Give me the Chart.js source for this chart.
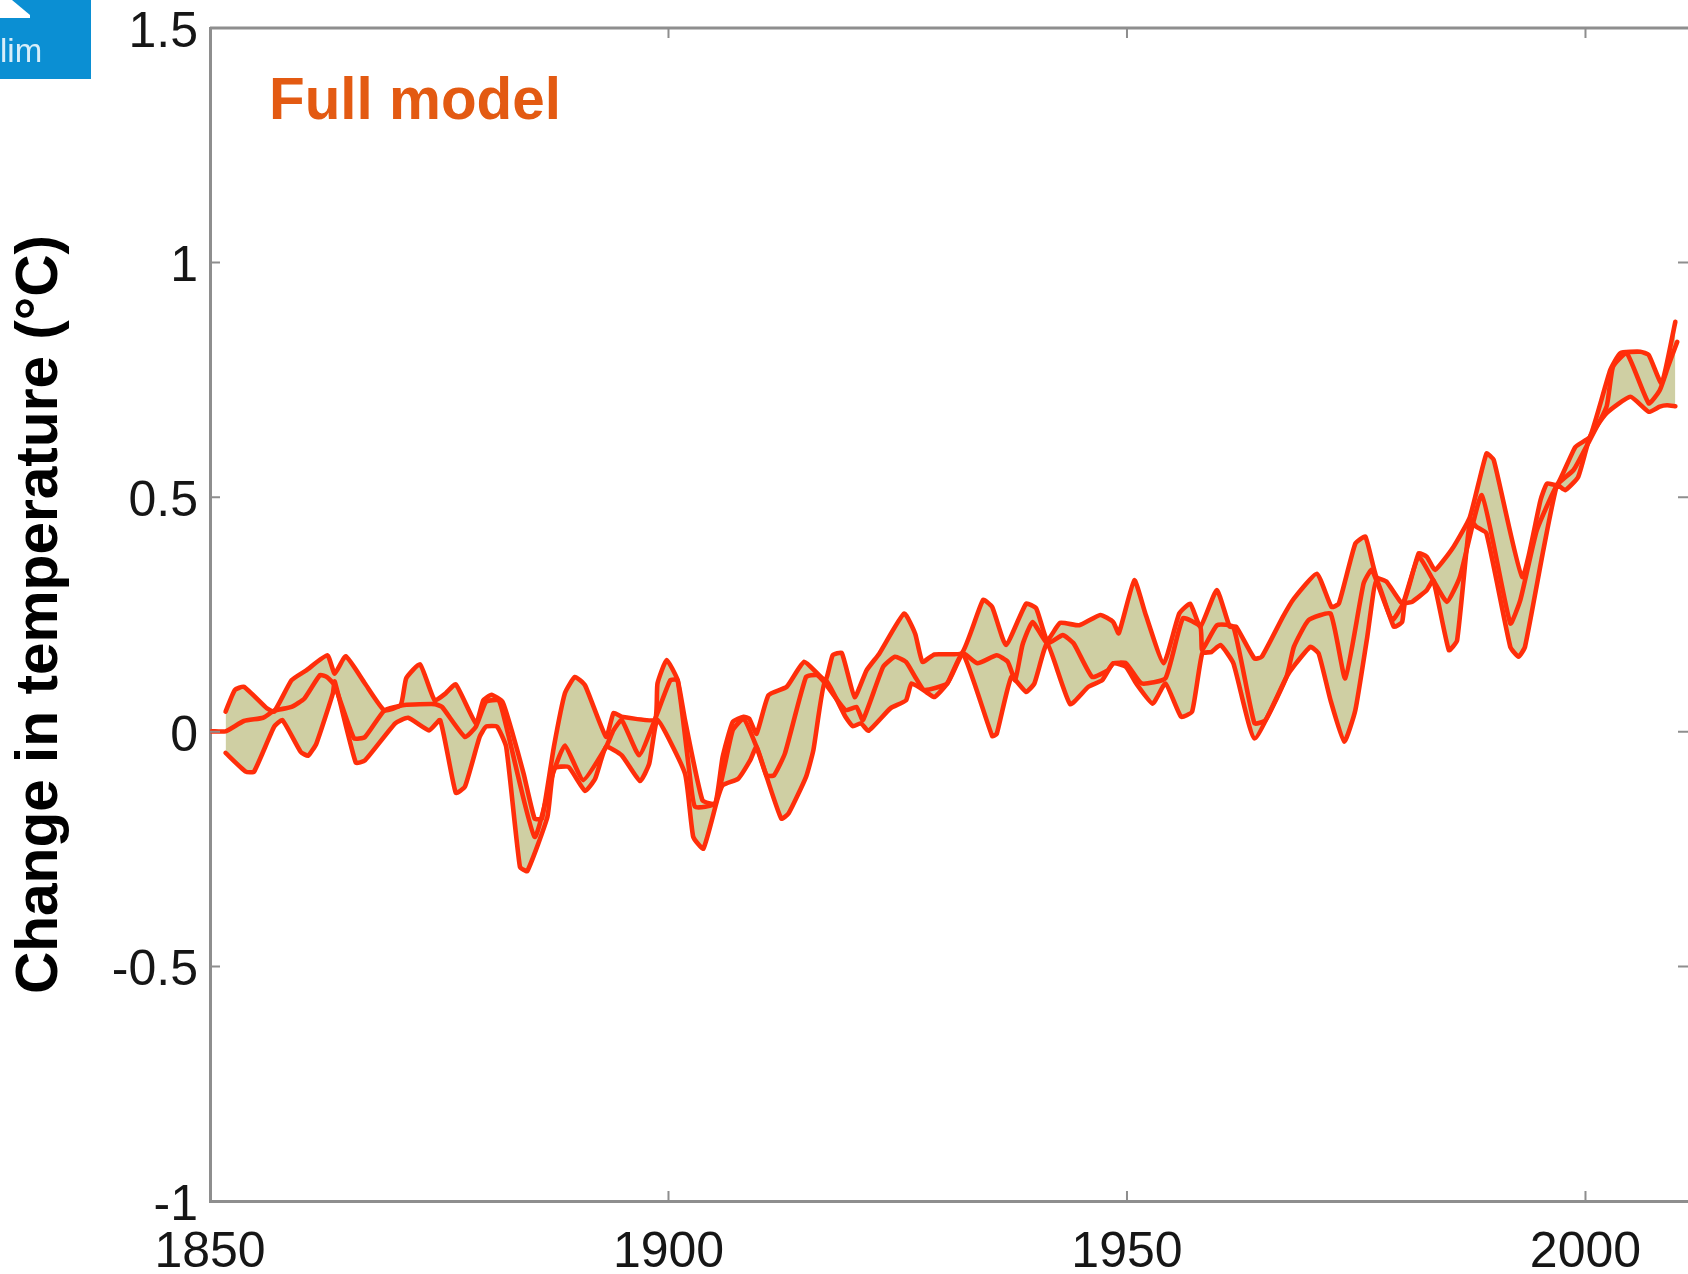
<!DOCTYPE html>
<html><head><meta charset="utf-8">
<style>html,body{margin:0;padding:0;background:#fff;overflow:hidden}canvas{display:block}</style>
<script src="https://cdn.jsdelivr.net/npm/chart.js@4"></script>
</head><body><div style="width:1688px;height:1274px"><canvas id="c" width="1688" height="1274"></canvas></div>
<script>
const xTicks=[1850,1900,1950,2000];
const yTicks=[-1,-0.5,0,0.5,1,1.5];
const yAxisTitle="Change in temperature (°C)";
const panelLabel="Full model";
const logoText="lim";
const upperYears=[1851.7,1852.7,1853.7,1856.2,1857.0,1858.9,1860.5,1862.8,1863.6,1864.8,1866.9,1869.0,1870.8,1871.4,1872.9,1874.5,1875.7,1876.8,1879.0,1879.8,1880.7,1881.9,1882.9,1884.2,1885.4,1886.2,1887.5,1888.7,1889.8,1890.9,1893.2,1894.0,1894.9,1898.5,1898.8,1899.8,1901.0,1901.8,1903.7,1905.1,1905.9,1907.0,1908.2,1908.8,1909.6,1910.9,1912.9,1914.8,1917.1,1917.9,1918.9,1920.3,1921.6,1923.0,1925.7,1926.9,1927.7,1929.0,1932.0,1934.3,1935.3,1936.8,1939.0,1940.1,1941.3,1942.7,1944.8,1947.1,1948.5,1949.1,1950.8,1952.0,1954.0,1955.7,1956.9,1958.0,1959.8,1961.2,1961.9,1963.9,1964.7,1967.0,1968.2,1970.7,1972.3,1973.1,1974.9,1976.0,1977.2,1978.3,1980.1,1981.8,1982.7,1983.6,1985.6,1987.4,1989.2,1990.0,1993.1,1995.1,1995.8,1996.9,1998.9,2000.5,2002.7,2003.8,2006.0,2006.9,2008.3,2009.8];
const upperValues=[.043,.089,.096,.050,.043,.110,.131,.163,.124,.161,.103,.046,.057,.114,.144,.067,.082,.101,.018,.067,.079,.064,.003,-.089,-.185,-.185,-.032,.082,.117,.099,-.011,.040,.032,.026,.103,.153,.110,.025,-.146,-.153,-.054,.021,.032,.028,-.004,.078,.096,.149,.110,.163,.168,.074,.131,.167,.252,.209,.149,.165,.168,.281,.266,.185,.273,.263,.195,.232,.227,.249,.234,.210,.323,.252,.146,.252,.273,.224,.302,.224,.224,.156,.160,.245,.284,.337,.266,.273,.401,.416,.330,.320,.273,.380,.373,.345,.394,.458,.593,.579,.330,.494,.529,.526,.607,.629,.771,.807,.810,.803,.743,.874];
const lowerYears=[1851.7,1853.9,1854.8,1857.0,1857.9,1859.9,1860.7,1861.6,1863.4,1863.6,1865.9,1866.9,1870.2,1871.6,1873.9,1875.1,1876.8,1877.8,1879.4,1880.1,1881.3,1882.3,1883.8,1884.6,1886.8,1887.5,1889.1,1890.9,1892.0,1893.2,1894.9,1896.9,1897.9,1898.8,1901.8,1902.7,1903.8,1905.3,1905.9,1907.6,1908.9,1909.6,1910.7,1912.3,1913.1,1915.0,1915.8,1917.1,1919.3,1920.1,1921.0,1921.8,1924.2,1925.9,1926.5,1928.1,1929.0,1930.4,1932.1,1935.3,1935.8,1937.4,1939.0,1939.9,1941.3,1943.8,1945.8,1947.3,1948.5,1949.9,1951.0,1952.8,1954.2,1955.9,1957.1,1958.2,1959.2,1960.2,1961.6,1963.9,1967.4,1968.2,1970.0,1970.9,1972.2,1973.7,1974.9,1976.2,1977.2,1979.1,1980.0,1980.3,1981.1,1982.7,1983.4,1985.1,1986.0,1987.4,1988.1,1989.2,1991.8,1992.7,1993.4,1995.4,1996.9,1997.8,1999.2,2000.5,2002.3,2004.9,2006.9,2008.1,2008.9,2009.8];
const lowerValues=[-.045,-.085,-.085,.011,.025,-.043,-.051,-.025,.082,.107,-.066,-.061,.018,.030,.003,.025,-.130,-.117,-.011,.011,.011,-.032,-.288,-.297,-.181,-.078,-.075,-.126,-.100,-.032,-.050,-.105,-.068,.025,-.089,-.224,-.249,-.146,-.114,-.100,-.061,-.032,-.096,-.185,-.174,-.096,-.039,.110,.032,.012,.018,.002,.050,.067,.103,.085,.074,.103,.167,-.009,-.004,.117,.085,.103,.188,.059,.096,.110,.146,.138,.103,.060,.103,.032,.043,.167,.170,.185,.146,-.014,.117,.140,.181,.167,.067,-.021,.046,.202,.323,.224,.234,.273,.277,.302,.323,.174,.195,.451,.437,.423,.181,.160,.181,.387,.526,.515,.543,.629,.679,.714,.682,.693,.696,.694];
const midYears=[1850.2,1851.7,1853.7,1855.8,1857.0,1858.9,1860.3,1862.0,1862.8,1863.6,1865.7,1866.9,1869.0,1871.2,1874.5,1875.3,1877.8,1879.0,1880.1,1881.5,1882.5,1885.4,1887.4,1888.7,1890.7,1893.2,1894.0,1894.9,1896.8,1898.5,1900.2,1901.0,1902.3,1902.9,1905.1,1907.0,1908.2,1909.6,1910.7,1911.5,1912.7,1915.0,1916.2,1917.1,1919.3,1920.5,1921.2,1923.4,1924.7,1925.9,1926.9,1927.9,1930.4,1932.1,1933.7,1935.8,1937.0,1937.8,1938.6,1939.7,1941.3,1943.0,1944.2,1946.2,1947.9,1948.5,1949.9,1951.6,1954.2,1956.1,1958.0,1958.2,1959.8,1961.6,1963.9,1965.1,1967.4,1968.2,1969.8,1972.2,1973.8,1975.8,1976.7,1978.9,1980.1,1981.8,1983.4,1984.9,1986.3,1988.7,1991.8,1992.9,1994.7,1996.9,1998.7,2000.1,2002.3,2003.0,2004.5,2006.9,2008.1,2009.0,2010.0];
const midValues=[.001,.001,.023,.030,.045,.053,.071,.121,.116,.099,-.014,-.011,.045,.057,.059,.053,-.011,.011,.064,.067,-.004,-.224,-.089,-.029,-.103,-.032,.003,.025,-.050,.025,.110,.110,-.089,-.160,-.153,.003,.028,-.032,-.093,-.093,-.046,.117,.121,.103,.046,.053,.025,.138,.160,.149,.117,.089,.103,.167,.146,.163,.149,.110,.185,.234,.188,.206,.188,.117,.131,.146,.146,.103,.114,.242,.224,.174,.227,.224,.018,.025,.117,.181,.238,.252,.114,.316,.345,.238,.273,.373,.323,.277,.330,.504,.231,.281,.430,.526,.558,.608,.693,.778,.807,.700,.728,.778,.831];

const pair=(xs,ys)=>xs.map((x,i)=>({x,y:ys[i]}));
const RED='#ff2e0a', FILL='#cfcfa3', AXIS='#8e8e8e', INK='#161616';
const lineStyle={borderColor:RED,borderWidth:4.6,pointRadius:0,tension:0.15,borderJoinStyle:'round',borderCapStyle:'round'};
const decor={id:'decor',
 afterDatasetsDraw(ch){
  const c=ch.ctx,a=ch.chartArea,sx=ch.scales.x,sy=ch.scales.y,T=10;
  c.save();
  c.strokeStyle=AXIS;c.lineWidth=3;
  c.beginPath();c.moveTo(a.left,a.top);c.lineTo(a.right,a.top);c.stroke();
  c.lineWidth=2;
  c.beginPath();
  for(const t of xTicks){const p=sx.getPixelForValue(t);
   if(t!==xTicks[0]){c.moveTo(p,a.top);c.lineTo(p,a.top+T);c.moveTo(p,a.bottom);c.lineTo(p,a.bottom-T);}}
  for(const t of yTicks){const p=sy.getPixelForValue(t);
   if(t!==yTicks[0]&&t!==yTicks[yTicks.length-1]){c.moveTo(a.left,p);c.lineTo(a.left+T,p);c.moveTo(a.right,p);c.lineTo(a.right-T,p);}}
  c.stroke();
  c.fillStyle='#e35a12';c.font='bold 58.4px "Liberation Sans"';c.textAlign='left';c.textBaseline='alphabetic';
  c.fillText(panelLabel,269,119);
  c.fillStyle='#0b8fd3';c.fillRect(0,0,91,79);
  c.fillStyle='#ffffff';c.beginPath();c.moveTo(0,0);c.lineTo(12,0);c.lineTo(30,15);c.lineTo(30,18);c.lineTo(0,18);c.closePath();c.fill();
  c.fillStyle='#d8eef9';c.font='33px "Liberation Sans"';c.fillText(logoText,0,62);
  c.restore();
 }};
new Chart(document.getElementById('c'),{
 type:'line',
 data:{datasets:[
  {label:'Upper',data:pair(upperYears,upperValues),...lineStyle,backgroundColor:FILL,fill:{target:1}},
  {label:'Lower',data:pair(lowerYears,lowerValues),...lineStyle,fill:false},
  {label:'Middle',data:pair(midYears,midValues),...lineStyle,fill:false}
 ]},
 plugins:[decor],
 options:{responsive:false,animation:false,devicePixelRatio:1,
  layout:{padding:{top:28,left:0,right:0,bottom:0}},
  plugins:{legend:{display:false},tooltip:{enabled:false},title:{display:false},filler:{drawTime:'beforeDatasetsDraw'}},
  scales:{
   x:{type:'linear',min:1850,max:2011.18,
    afterBuildTicks(s){s.ticks=xTicks.map(v=>({value:v}));},
    afterFit(s){s.height=73;s.paddingLeft=0;s.paddingRight=0;},
    grid:{display:false,drawTicks:false},
    border:{display:true,color:AXIS,width:3},
    ticks:{autoSkip:false,maxRotation:0,padding:22,color:INK,font:{family:'"Liberation Sans"',size:50},callback:v=>String(v)}},
   y:{type:'linear',min:-1,max:1.5,
    afterBuildTicks(s){s.ticks=yTicks.map(v=>({value:v}));},
    afterFit(s){s.width=210;s.paddingTop=0;s.paddingBottom=0;},
    grid:{display:false,drawTicks:false},
    border:{display:true,color:AXIS,width:3},
    title:{display:true,text:yAxisTitle,color:'#000',padding:{top:6,bottom:0},font:{family:'"Liberation Sans"',size:58.6,weight:'bold'}},
    ticks:{autoSkip:false,padding:12,color:INK,font:{family:'"Liberation Sans"',size:50,lineHeight:'10px'},callback:v=>['',String(v)]}}
  }}
});
</script></body></html>
